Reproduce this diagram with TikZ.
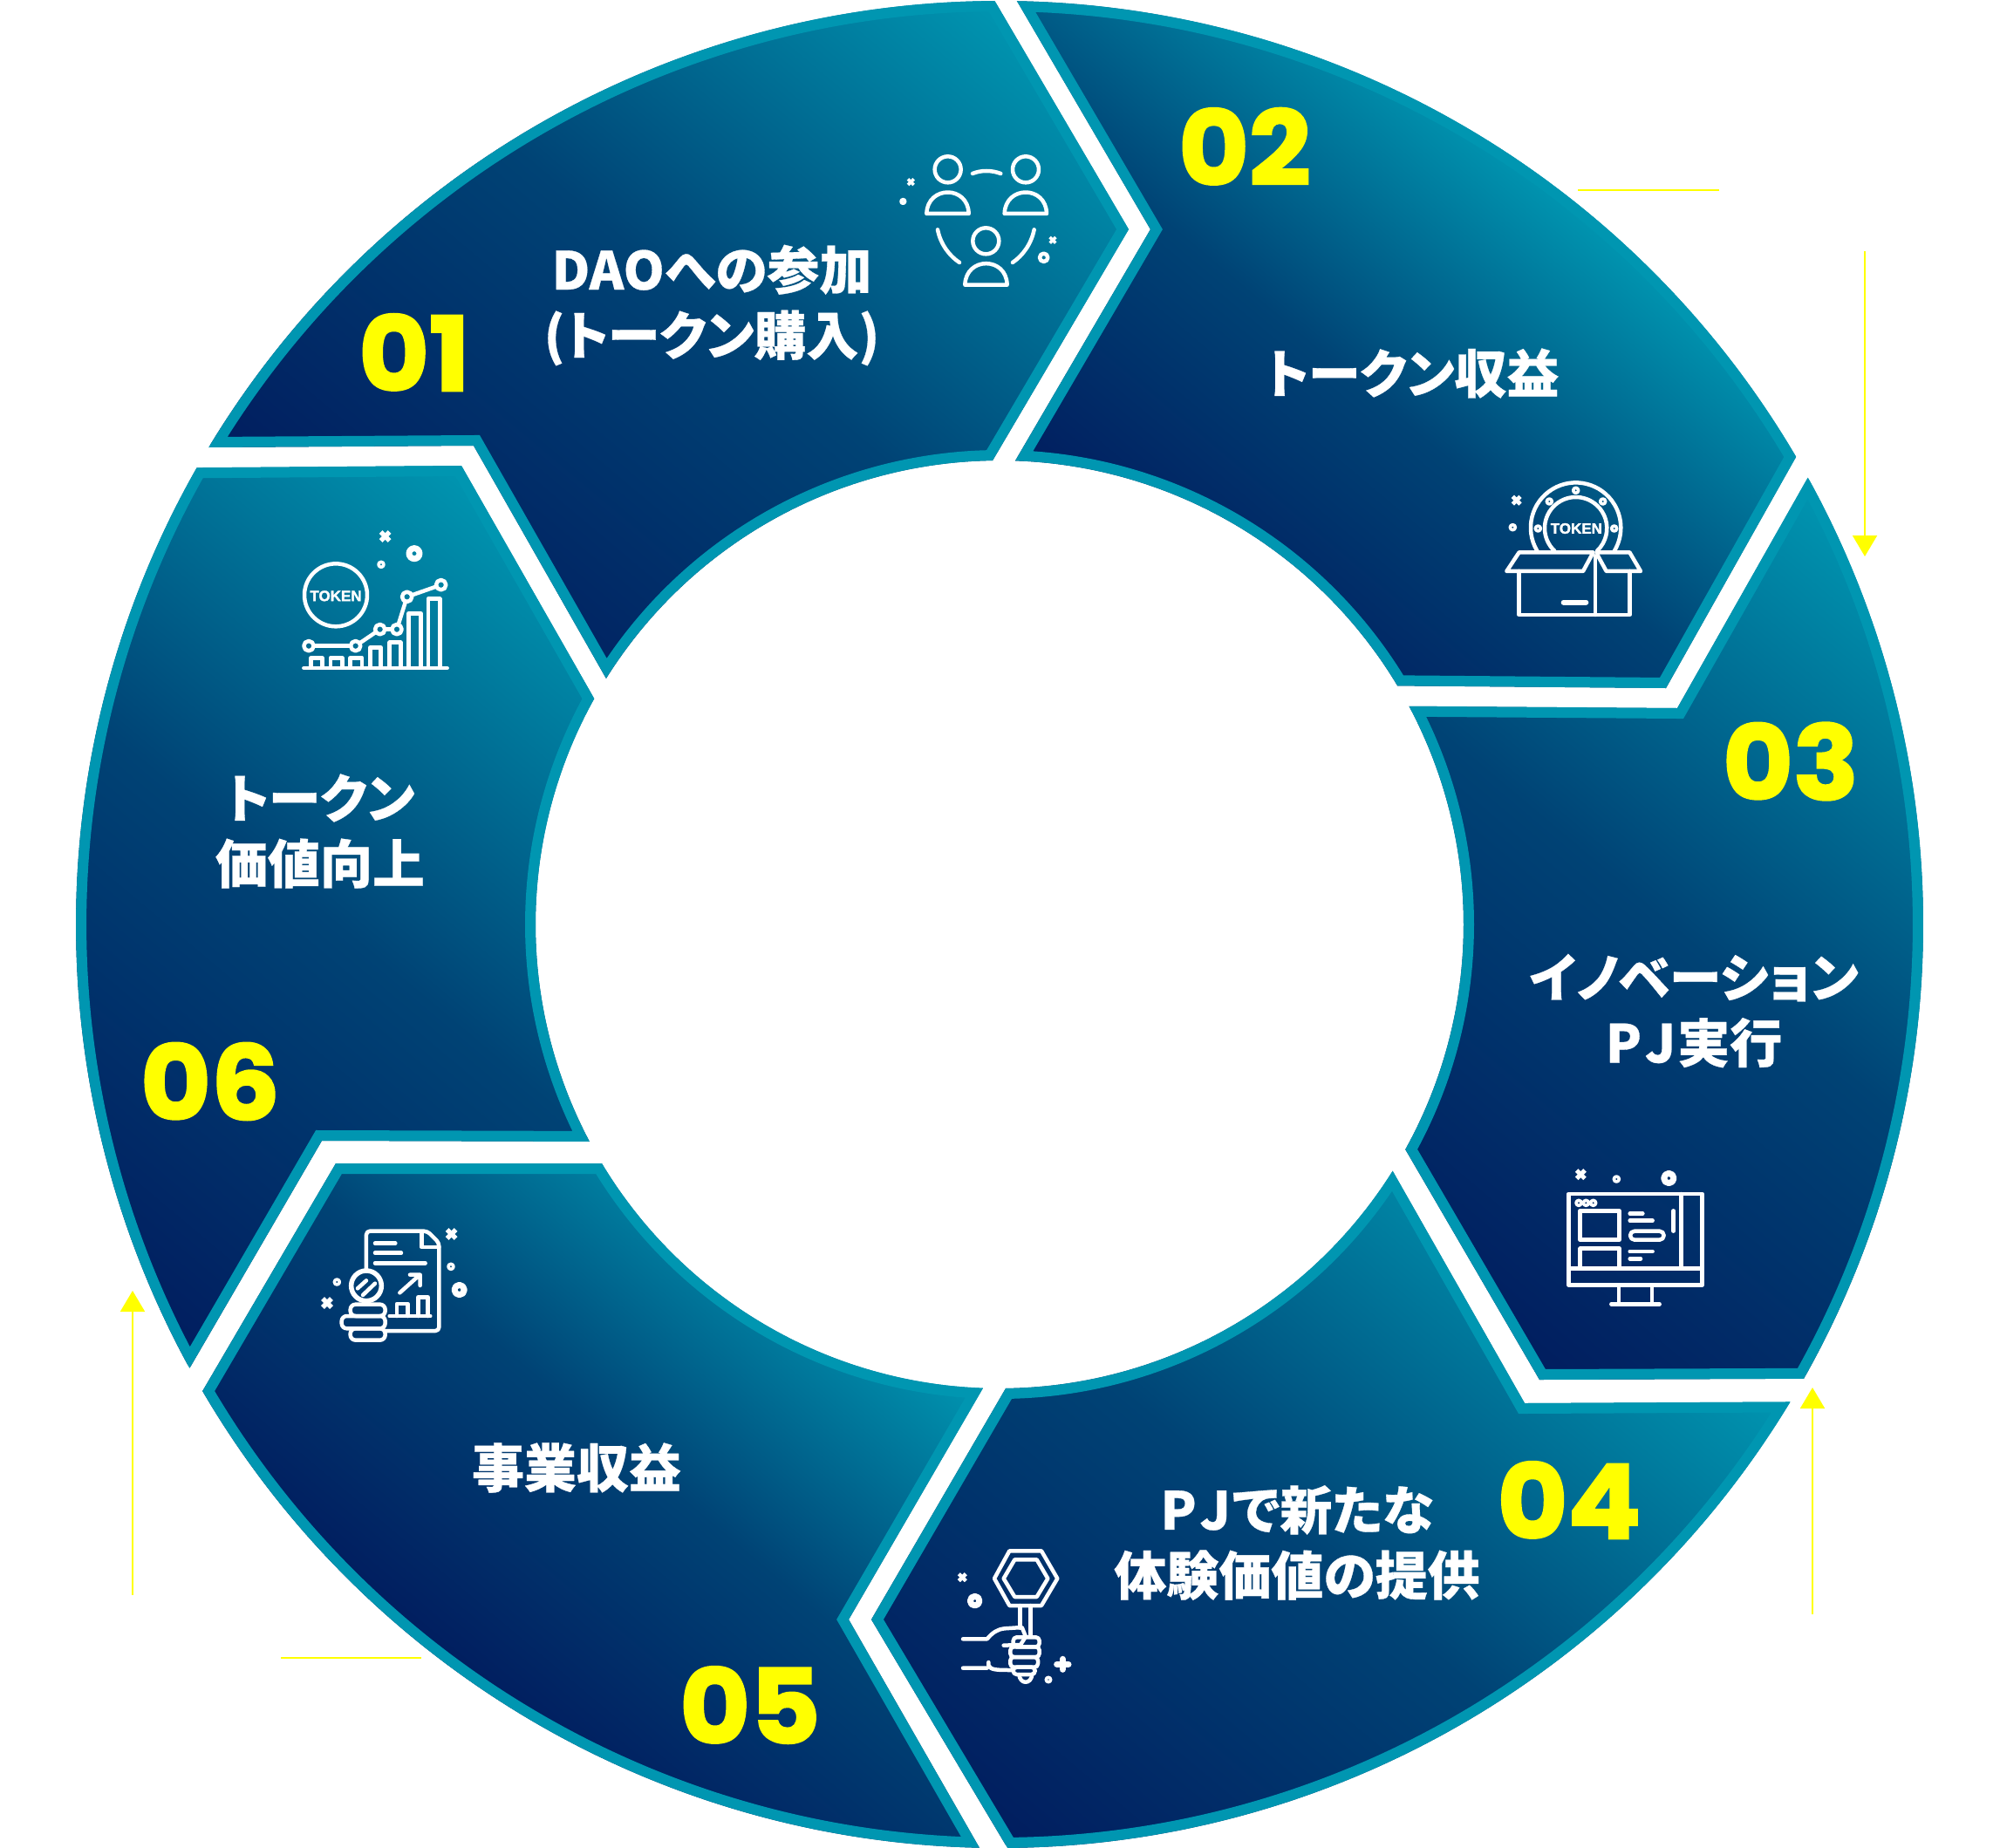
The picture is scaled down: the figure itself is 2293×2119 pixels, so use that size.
\documentclass[tikz,border=0pt]{standalone}
\usepackage{fontspec}
\usetikzlibrary{arrows.meta}
\newfontfamily\jpfont{Noto Sans CJK JP}[RawFeature={+palt},BoldFeatures={FakeBold=0.5}]
\newfontfamily\numfont{Poppins}[BoldFeatures={FakeBold=2.2,FakeStretch=1.05}]
\newfontfamily\tokfont{Liberation Sans}[BoldFeatures={FakeBold=1.6}]
\definecolor{segteal}{HTML}{0096B1}
\definecolor{segmid}{HTML}{004375}
\definecolor{segnavy}{HTML}{011D5F}
\definecolor{markyellow}{HTML}{FFFF00}
\tikzset{
  segfill/.style={top color=segteal,bottom color=segnavy,middle color=segmid},
  segring/.style={draw=segteal,line width=24pt,line join=miter},
  numlabel/.style={text=markyellow,inner sep=0pt,font=\numfont\bfseries\fontsize{118}{118}\selectfont},
  steplabel/.style={text=white,inner sep=0pt,align=center,font=\jpfont\bfseries\fontsize{60}{75}\selectfont},
  toklabel/.style={text=white,inner sep=0pt,font=\tokfont\bfseries\fontsize{17}{17}\selectfont},
  guide/.style={draw=markyellow,line width=2pt},
  guidearrow/.style={guide,-{Triangle[length=24pt,width=28pt,fill=markyellow]}},
  icon/.style={draw=white,line width=4.5pt,line cap=round,line join=round},
  iconthin/.style={icon,line width=3.6pt},
  iconthick/.style={icon,line width=7pt},
}
% #1 outline, #2 and #3 extent of the outline along the gradient axis
\newcommand{\ringseg}[3]{%
  \begin{scope}
    \clip #1;
    \begin{scope}[transform canvas={shift={(1146,1060)},rotate=-40,shift={(-1146,-1060)}}]
      \shade[segfill] (-1500,-#3) rectangle (1500,-#2);
    \end{scope}
    \draw[segring] #1;
  \end{scope}}
\newcommand{\xmark}[3]{\draw[icon,line width=#3*0.36pt,line cap=butt] (#1-#3,#2-#3) -- (#1+#3,#2+#3) (#1-#3,#2+#3) -- (#1+#3,#2-#3);}
\begin{document}
\begin{tikzpicture}[x=1pt,y=-1pt]
\useasboundingbox (0,0) rectangle (2293,2119);
% ---------- ring segments
\begin{scope}[shift={(1146,1060)}]
\ringseg{(-148.9:1059) arc[start angle=-148.9,end angle=-90.3,radius=1059] -- (148,-797) -- (-90.86:532) arc[start angle=-90.86,end angle=-147.98,radius=532] -- (-603,-549) -- cycle}{-161}{807}
\ringseg{(-88.92:1059) arc[start angle=-88.92,end angle=-30.42,radius=1059] -- (764,-271) -- (-30.96:532) arc[start angle=-30.96,end angle=-88.06,radius=532] -- (173,-797) -- cycle}{419}{1059}
\ringseg{(-28.94:1059) arc[start angle=-28.94,end angle=29.46,radius=1059] -- (619,522) -- (29.01:532) arc[start angle=29.01,end angle=-28.06,radius=532] -- (777,-248) -- cycle}{-2}{987}
\ringseg{(31.13:1059) arc[start angle=31.13,end angle=89.51,radius=1059] -- (-147,797) -- (89.24:532) arc[start angle=89.24,end angle=32.1,radius=532] -- (602,549) -- cycle}{-804}{163}
\ringseg{(91.25:1059) arc[start angle=91.25,end angle=149.65,radius=1059] -- (-761,274) -- (149:532) arc[start angle=149,end angle=92.05,radius=532] -- (-173,797) -- cycle}{-1059}{-419}
\ringseg{(151.28:1059) arc[start angle=151.28,end angle=209.64,radius=1059] -- (-617,-526) -- (209.12:532) arc[start angle=209.12,end angle=152.1,radius=532] -- (-777,248) -- cycle}{-985}{6}
\end{scope}
% ---------- numbers
\node[numlabel] (n1) at (475,404) {01};
\node[numlabel] (n2) at (1427,168) {02};
\node[numlabel] (n3) at (2053,873) {03};
\node[numlabel] (n4) at (1799,1720) {04};
\node[numlabel] (n5) at (860,1955) {05};
\node[numlabel] (n6) at (241,1240) {06};
% ---------- step labels
\node[steplabel] (t1) at (816,350) {DAOへの参加\\(トークン購入)};
\node[steplabel] (t2) at (1619,428) {トークン収益};
\node[steplabel] (t3) at (1942,1159) {イノベーション\\P\kern4pt J\kern2pt 実行};
\node[steplabel] (t4) at (1487,1769) {P\kern4pt J\kern2pt で新たな\\体験価値の提供};
\node[steplabel] (t5) at (661,1683) {事業収益};
\node[steplabel] (t6) at (367,953) {トークン\\価値向上};
% ---------- yellow guides
\coordinate (g1a) at (1809,218); \coordinate (g1b) at (1971,218);
\draw[guide] (g1a) -- (g1b);
\coordinate (g2a) at (2138,288); \coordinate (g2b) at (2138,638);
\draw[guidearrow] (g2a) -- (g2b);
\coordinate (g3a) at (2078,1851); \coordinate (g3b) at (2078,1591);
\draw[guidearrow] (g3a) -- (g3b);
\coordinate (g4a) at (322,1901); \coordinate (g4b) at (483,1901);
\draw[guide] (g4a) -- (g4b);
\coordinate (g5a) at (152,1829); \coordinate (g5b) at (152,1480);
\draw[guidearrow] (g5a) -- (g5b);
% ---------- icon 1: people
\begin{scope}[shift={(1000,150)},x=0.3333pt,y=-0.3333pt]
\draw[icon] (260,133) circle[radius=45] (528,133) circle[radius=45] (391,379) circle[radius=45];
\draw[icon] (187,285) .. controls (190,187) and (330,187) .. (332,285) -- cycle;
\draw[icon] (455,285) .. controls (458,187) and (598,187) .. (600,285) -- cycle;
\draw[icon] (319,530) .. controls (322,432) and (462,432) .. (464,530) -- cycle;
\draw[icon] (345,147) .. controls (375,135) and (410,135) .. (442,147);
\draw[icon] (225,340) .. controls (235,390) and (265,430) .. (300,453);
\draw[icon] (557,340) .. controls (547,390) and (517,430) .. (483,453);
\xmark{133}{176}{10}\xmark{621}{376}{10}
\draw[iconthin] (106,243) circle[radius=7];
\draw[icon] (590,436) circle[radius=14];
\end{scope}
% ---------- icon 2: token box
\begin{scope}[shift={(1700,530)},x=0.3333pt,y=-0.3333pt]
\draw[icon] (187,305) arc[start angle=149,end angle=391,radius=155];
\draw[icon] (246.7,305) arc[start angle=133.2,end angle=406.8,radius=107];
\draw[iconthin] (320,97) circle[radius=9] (229,135) circle[radius=9] (413,135) circle[radius=9] (190,228) circle[radius=9] (452,228) circle[radius=9] (103,224) circle[radius=9];
\xmark{116}{131}{13}
\node[toklabel] (tok1) at (322,228) {TOKEN};
\draw[icon] (82,375) -- (125,310) -- (380,310) -- (345,375) -- cycle;
\draw[icon] (395,320) -- (425,375) -- (543,375) -- (505,310) -- (392,310);
\draw[icon] (125,375) -- (125,525) -- (505,525) -- (505,375);
\draw[icon] (387,322) -- (387,525);
\draw[icon,line width=6pt] (278,482) -- (355,482);
\end{scope}
% ---------- icon 3: monitor
\begin{scope}[shift={(1770,1320)},x=0.3333pt,y=-0.3333pt]
\xmark{127}{80}{14}
\draw[iconthin] (250,96) circle[radius=9];
\draw[iconthick] (430,93) circle[radius=17];
\draw[icon] (85,147) rectangle (545,460);
\draw[icon] (85,403) -- (545,403) (472,147) -- (472,403);
\draw[icon] (258,460) -- (258,525) (372,460) -- (372,525);
\draw[icon] (232,526) -- (398,526);
\draw[iconthin] (120,178) circle[radius=9] (145,178) circle[radius=9] (170,178) circle[radius=9];
\draw[icon] (125,205) rectangle (260,305);
\draw[icon] (125,403) -- (125,335) -- (260,335) -- (260,403);
\draw[icon] (296,215) -- (340,215) (296,239) -- (374,239) (296,345) -- (374,345) (296,370) -- (333,370) (446,205) -- (446,275);
\draw[icon,rounded corners=5pt] (297,275) rectangle (413,305);
\end{scope}
% ---------- icon 4: hand and sign
\begin{scope}[shift={(1080,1760)},x=0.3333pt,y=-0.3333pt]
\draw[icon] (180,150) -- (232,55) -- (342,55) -- (397,150) -- (342,243) -- (232,243) -- cycle;
\draw[icon] (212,150) -- (250,85) -- (326,85) -- (364,150) -- (326,213) -- (250,213) -- cycle;
\draw[icon] (268,243) -- (268,320) (305,243) -- (305,348);
\draw[icon] (72,358) -- (155,358) .. controls (175,335) and (190,325) .. (215,322) -- (275,318) -- (288,350) -- (270,378) -- (212,380);
\draw[icon] (72,458) -- (155,458) (160,438) -- (160,448) .. controls (165,465) and (190,465) .. (240,465);
\draw[icon,rounded corners=4pt] (245,385) rectangle (335,352);
\draw[icon,rounded corners=4pt] (235,385) rectangle (335,420);
\draw[icon,rounded corners=4pt] (235,420) rectangle (330,455);
\draw[icon,rounded corners=4pt] (245,455) rectangle (320,480);
\draw[icon] (265,480) .. controls (268,515) and (307,515) .. (310,480);
\xmark{70}{146}{12}
\draw[iconthick] (113,227) circle[radius=16];
\draw[iconthick] (395,445) -- (435,445) (415,427) -- (415,463);
\draw[iconthin] (366,498) circle[radius=8];
\end{scope}
% ---------- icon 5: report and coins
\begin{scope}[shift={(360,1400)},x=0.3333pt,y=-0.3333pt]
\draw[icon,rounded corners=4pt] (180,170) -- (180,35) -- (390,35) -- (430,75) -- (430,378) -- (248,378);
\draw[icon] (370,40) -- (370,90) -- (430,90);
\draw[icon] (210,77) -- (280,77) (210,110) -- (300,110) (210,145) -- (383,145);
\draw[icon] (295,247) -- (362,187) (330,185) -- (365,185) -- (365,222);
\draw[icon] (260,327) -- (400,327);
\draw[icon] (285,327) -- (285,285) -- (322,285) -- (322,327);
\draw[icon] (358,327) -- (358,262) -- (392,262) -- (392,327);
\draw[icon,line width=5.5pt] (180,223) circle[radius=52];
\draw[icon] (150,232) -- (180,205) (168,255) -- (210,215);
\draw[icon,rounded corners=6pt] (125,287) rectangle (245,327);
\draw[icon,rounded corners=6pt] (95,327) rectangle (245,370);
\draw[icon,rounded corners=6pt] (125,370) rectangle (245,410);
\xmark{473}{45}{15}\xmark{45}{282}{15}
\draw[iconthin] (471,157) circle[radius=9] (79,210) circle[radius=9];
\draw[iconthick] (500,237) circle[radius=17];
\end{scope}
% ---------- icon 6: token growth
\begin{scope}[shift={(330,600)},x=0.3333pt,y=-0.3333pt]
\draw[icon] (165,247) circle[radius=108];
\node[toklabel] (tok2) at (165,250) {TOKEN};
\draw[icon] (72,422) circle[radius=17] (233,422) circle[radius=17] (317,365) circle[radius=17] (375,365) circle[radius=17] (410,253) circle[radius=17] (527,212) circle[radius=17];
\begin{scope}[shorten <=5.7pt,shorten >=5.7pt]
\draw[icon,line cap=butt] (72,422) -- (233,422);
\draw[icon,line cap=butt] (233,422) -- (317,365);
\draw[icon,line cap=butt] (317,365) -- (375,365);
\draw[icon,line cap=butt] (375,365) -- (410,253);
\draw[icon,line cap=butt] (410,253) -- (527,212);
\end{scope}
\draw[icon] (80,490) -- (80,463) -- (118,463) -- (118,490);
\draw[icon] (147,490) -- (147,463) -- (187,463) -- (187,490);
\draw[icon] (215,490) -- (215,463) -- (255,463) -- (255,490);
\draw[icon] (283,490) -- (283,427) -- (320,427) -- (320,490);
\draw[icon] (350,490) -- (350,410) -- (388,410) -- (388,490);
\draw[icon] (415,490) -- (415,310) -- (458,310) -- (458,490);
\draw[icon] (483,490) -- (483,260) -- (523,260) -- (523,490);
\draw[icon] (55,498) -- (548,498);
\xmark{335}{45}{15}
\draw[iconthick] (435,104) circle[radius=18];
\draw[iconthin] (321,142) circle[radius=9];
\end{scope}
\end{tikzpicture}
\end{document}
